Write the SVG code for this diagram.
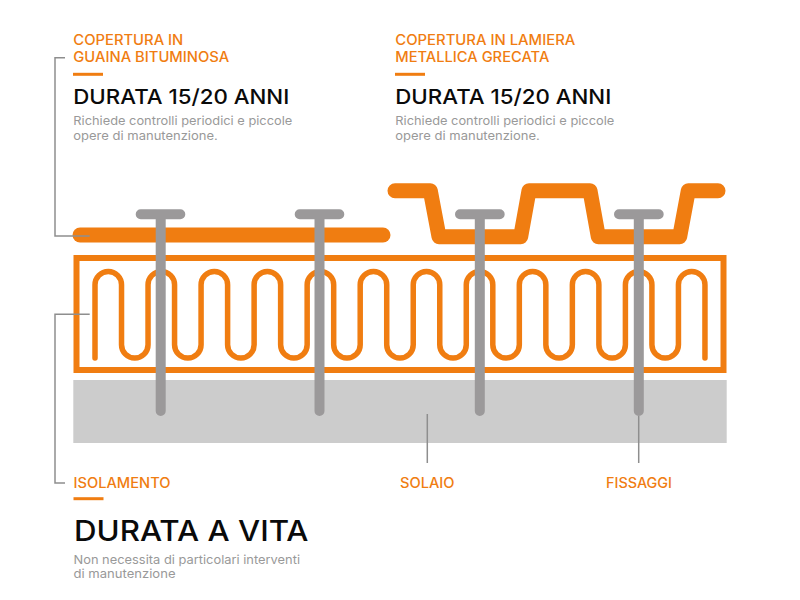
<svg xmlns="http://www.w3.org/2000/svg" width="800" height="600" viewBox="0 0 800 600">
<style>
text{font-family:"Inter","Noto Sans","Liberation Sans",sans-serif}
.l{font-size:14px;fill:#f07d11;font-weight:500}
.h{font-size:20.5px;fill:#0a0a0a;font-weight:500}
.h2{font-size:29px;fill:#0a0a0a;font-weight:500}
.d{font-size:12px;fill:#999}
.o{fill:none;stroke:#f07d11;stroke-linecap:round;stroke-linejoin:round}
.p{fill:none;stroke:#9b999a;stroke-width:10;stroke-linecap:round}
.c{fill:none;stroke:#8e8e8e;stroke-width:1.5}
.b{stroke:#f07d11;stroke-width:3;fill:none}
</style>
<rect width="800" height="600" fill="#fff"/>
<g id="solaio"><rect x="73.3" y="380" width="653.4" height="63" fill="#ccc"/></g>
<g id="isolamento">
<rect x="76.5" y="258" width="647" height="112" fill="none" stroke="#f07d11" stroke-width="6"/>
<path class="o" stroke-width="5.5" d="M95 358V284.75
a13.26 13.26 0 0 1 26.52 0V344.75a13.26 13.26 0 0 0 26.52 0V284.75
a13.26 13.26 0 0 1 26.52 0V344.75a13.26 13.26 0 0 0 26.52 0V284.75
a13.26 13.26 0 0 1 26.52 0V344.75a13.26 13.26 0 0 0 26.52 0V284.75
a13.26 13.26 0 0 1 26.52 0V344.75a13.26 13.26 0 0 0 26.52 0V284.75
a13.26 13.26 0 0 1 26.52 0V344.75a13.26 13.26 0 0 0 26.52 0V284.75
a13.26 13.26 0 0 1 26.52 0V344.75a13.26 13.26 0 0 0 26.52 0V284.75
a13.26 13.26 0 0 1 26.52 0V344.75a13.26 13.26 0 0 0 26.52 0V284.75
a13.26 13.26 0 0 1 26.52 0V344.75a13.26 13.26 0 0 0 26.52 0V284.75
a13.26 13.26 0 0 1 26.52 0V344.75a13.26 13.26 0 0 0 26.52 0V284.75
a13.26 13.26 0 0 1 26.52 0V344.75a13.26 13.26 0 0 0 26.52 0V284.75
a13.26 13.26 0 0 1 26.52 0V344.75a13.26 13.26 0 0 0 26.52 0V284.75
a13.26 13.26 0 0 1 26.52 0V358"/>
</g>
<g id="guaina"><path class="o" stroke-width="15" d="M80 235H383"/></g>
<g id="lamiera"><path class="o" stroke-width="15" d="M395 190.7H430.3L439 236.7H520.7L529 190.7H590L598.3 236.7H679.7L688.3 190.7H718"/></g>
<g id="connectors">
<path class="c" d="M65 57.7H55V236H89.7"/>
<path class="c" d="M89.7 314.3H55V483H65"/>
<path class="c" d="M427.3 414V463"/>
<path class="c" d="M638.7 416V463"/>
</g>
<g id="fissaggio1"><path class="p" d="M140.7 214.3H180.3M160.7 214.3V411"/></g>
<g id="fissaggio2"><path class="p" d="M299.7 214.3H339.3M319.5 214.3V411"/></g>
<g id="fissaggio3"><path class="p" d="M460 214.3H499.7M479.8 214.3V411"/></g>
<g id="fissaggio4"><path class="p" d="M619 214.3H658.7M638.8 214.3V411"/></g>
<g id="testo-guaina">
<text class="l" x="73.3" y="44.5" textLength="110" lengthAdjust="spacingAndGlyphs">COPERTURA IN</text>
<text class="l" x="73.3" y="61.5" textLength="156" lengthAdjust="spacingAndGlyphs">GUAINA BITUMINOSA</text>
<path class="b" d="M73 74.3H103"/>
<text class="h" x="73.3" y="103.5" textLength="216" lengthAdjust="spacingAndGlyphs">DURATA 15/20 ANNI</text>
<text class="d" x="73.3" y="125" textLength="219" lengthAdjust="spacingAndGlyphs">Richiede controlli periodici e piccole</text>
<text class="d" x="73.3" y="139.5" textLength="144.5" lengthAdjust="spacingAndGlyphs">opere di manutenzione.</text>
</g>
<g id="testo-lamiera">
<text class="l" x="395.3" y="44.5" textLength="180" lengthAdjust="spacingAndGlyphs">COPERTURA IN LAMIERA</text>
<text class="l" x="395.3" y="61.5" textLength="154" lengthAdjust="spacingAndGlyphs">METALLICA GRECATA</text>
<path class="b" d="M395 74.3H425"/>
<text class="h" x="395.3" y="103.5" textLength="216" lengthAdjust="spacingAndGlyphs">DURATA 15/20 ANNI</text>
<text class="d" x="395.3" y="125" textLength="219" lengthAdjust="spacingAndGlyphs">Richiede controlli periodici e piccole</text>
<text class="d" x="395.3" y="139.5" textLength="144.5" lengthAdjust="spacingAndGlyphs">opere di manutenzione.</text>
</g>
<g id="testo-isolamento">
<text class="l" x="73.5" y="488" textLength="97" lengthAdjust="spacingAndGlyphs">ISOLAMENTO</text>
<path class="b" d="M73.5 498.7H103.5"/>
<text class="h2" x="74" y="541" textLength="234.5" lengthAdjust="spacingAndGlyphs">DURATA A VITA</text>
<text class="d" x="73.5" y="564" textLength="226.5" lengthAdjust="spacingAndGlyphs">Non necessita di particolari interventi</text>
<text class="d" x="73.5" y="578.3" textLength="102" lengthAdjust="spacingAndGlyphs">di manutenzione</text>
</g>
<g id="testo-solaio"><text class="l" x="400" y="488" textLength="54.5" lengthAdjust="spacingAndGlyphs">SOLAIO</text></g>
<g id="testo-fissaggi"><text class="l" x="606" y="488" textLength="66" lengthAdjust="spacingAndGlyphs">FISSAGGI</text></g>
</svg>
